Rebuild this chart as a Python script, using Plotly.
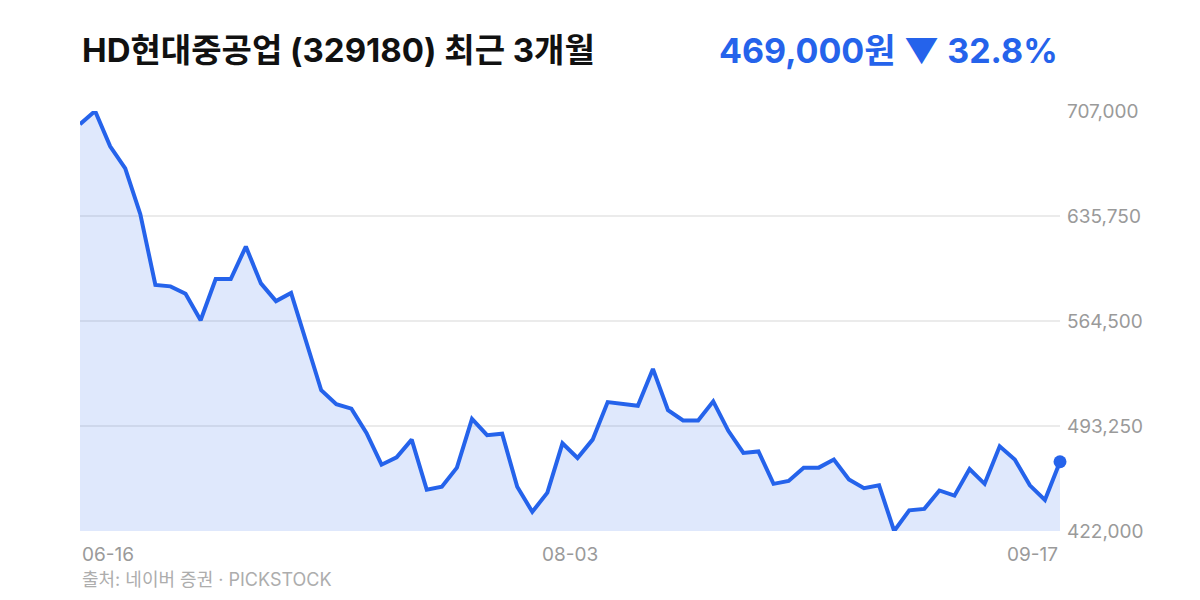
import plotly.graph_objects as go

# ---- data ----
prices = [
    698000, 707000, 683000, 668000, 637000, 589000, 588000, 583000, 565000, 593000,
    593000, 615000, 590000, 578000, 583500, 551000, 517500, 508000, 505000, 488500,
    467000, 472000, 484000, 450000, 452000, 465000, 498000, 487000, 488000, 452000,
    435000, 448000, 481500, 471500, 484000, 509500, 508000, 507000, 532000, 504000,
    497000, 497000, 510000, 490000, 475000, 476000, 454000, 456000, 465000, 465000,
    470500, 457000, 451000, 453000, 422000, 436000, 437000, 449500, 446000, 464000,
    454000, 479500, 470500, 453000, 443000, 469000,
]
date_labels = ["06-16", "08-03", "09-17"]
title_text = "HD현대중공업 (329180) 최근 3개월"
source_text = "출처: 네이버 증권 · PICKSTOCK"

n = len(prices)
xs = list(range(n))
pmin, pmax = min(prices), max(prices)
tickvals = [pmin + i * (pmax - pmin) / 4 for i in range(5)]
ticktext = [f"{round(v):,}" for v in tickvals]
last = prices[-1]
chg = (last - prices[0]) / prices[0] * 100
arrow = "▼" if chg < 0 else "▲"
headline = f"{last:,}원 {arrow} {abs(chg):.1f}%"

BLUE = "#2563EB"
GRAY = "#9A9A9A"
FONT = "Inter, Noto Sans CJK KR"

fig = go.Figure()
fig.add_trace(go.Scatter(
    x=xs, y=prices, mode="lines",
    line=dict(color=BLUE, width=4),
    fill="tozeroy", fillcolor="rgba(37,99,235,0.15)",
    hoverinfo="skip", showlegend=False,
))
fig.add_trace(go.Scatter(
    x=[xs[-1]], y=[last], mode="markers",
    marker=dict(color=BLUE, size=13),
    hoverinfo="skip", showlegend=False, cliponaxis=False,
))

annotations = []
annotations.append(dict(text=f"<b>{title_text}</b>", xref="paper", yref="paper",
                        x=0, y=1, yshift=61, xanchor="left", yanchor="middle",
                        showarrow=False, font=dict(size=33, color="#111111", family=FONT)))
annotations.append(dict(text=f"<b>{headline}</b>", xref="paper", yref="paper",
                        x=1, y=1, yshift=61, xanchor="right", yanchor="middle",
                        showarrow=False, font=dict(size=34, color=BLUE, family=FONT)))
label_pos = [(0, "left"), (0.5, "center"), (1, "right")]
for lab, (px, anc) in zip(date_labels, label_pos):
    annotations.append(dict(text=lab, x=px, xref="paper", y=0, yref="paper", yshift=-23,
                            xanchor=anc, yanchor="middle", showarrow=False,
                            font=dict(size=19, color=GRAY, family=FONT)))
annotations.append(dict(text=source_text, x=0, xref="paper", y=0, yref="paper", yshift=-48,
                        xanchor="left", yanchor="middle", showarrow=False,
                        font=dict(size=18, color="#ADADAD", family=FONT)))

fig.update_layout(
    width=1200, height=600,
    margin=dict(l=72, r=148, t=103, b=77),
    paper_bgcolor="white", plot_bgcolor="white",
    xaxis=dict(range=[0, n - 1], showgrid=False, zeroline=False, showticklabels=False,
               showline=False, fixedrange=True),
    yaxis=dict(range=[pmin, pmax], side="right", tickvals=tickvals, ticktext=ticktext,
               showgrid=True, gridcolor="#EBEBEB", gridwidth=1.5, zeroline=False,
               showline=False, ticks="", ticklabelstandoff=6,
               tickfont=dict(size=19, color=GRAY, family=FONT)),
    annotations=annotations,
    font=dict(family=FONT),
)

fig.write_html("out.html")
